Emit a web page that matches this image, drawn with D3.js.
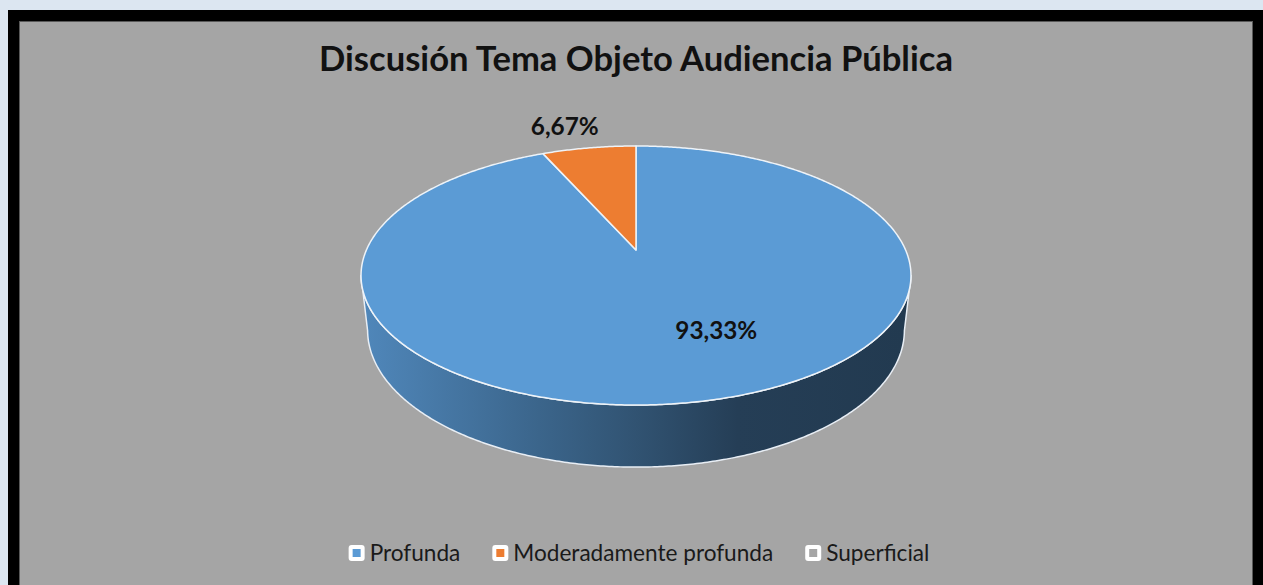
<!DOCTYPE html>
<html>
<head>
<meta charset="utf-8">
<script src="https://cdn.jsdelivr.net/npm/d3@7"></script>
<style>
  html, body { margin: 0; padding: 0; background: #dce6f1; }
  svg { display: block; font-family: Lato, "Open Sans", sans-serif; }
</style>
</head>
<body>
<div id="chart"></div>
<script>
const categories = ['Profunda', 'Moderadamente profunda', 'Superficial'];
const values = [93.33, 6.67, 0];
const colors = ['#5b9bd5', '#ed7d31', '#a5a5a5'];
const title = 'Discusión Tema Objeto Audiencia Pública';

const W = 1263, H = 585;
const svg = d3.select('#chart').append('svg').attr('width', W).attr('height', H);

// frame: light page, black border, gray plot area
svg.append('rect').attr('width', W).attr('height', H).attr('fill', '#dce6f1');
svg.append('rect').attr('x', 8).attr('y', 10).attr('width', W - 8).attr('height', H).attr('fill', '#000');
svg.append('rect').attr('x', 19.5).attr('y', 21.5).attr('width', 1233).attr('height', H)
  .attr('fill', '#a5a5a5').attr('stroke', '#595959').attr('stroke-width', 1);

const locale = d3.formatLocale({ decimal: ',', thousands: '.', grouping: [3], currency: ['', ''] });
const fmtPct = v => locale.format('.2f')(v) + '%';

// fit a text's font size to a target width, returns the new size
function fit(sel, target) {
  const fs = parseFloat(sel.attr('font-size'));
  const w = sel.node().getComputedTextLength();
  sel.attr('font-size', fs * target / w);
  return fs * target / w;
}

const titleText = svg.append('text').attr('x', 636).attr('y', 71).attr('text-anchor', 'middle')
  .attr('font-weight', 'bold').attr('font-size', 30).attr('fill', '#111').text(title);
fit(titleText, 634);

// 3D pie with a simple perspective camera
const tilt = 27.5 * Math.PI / 180, sn = Math.sin(tilt), cs = Math.cos(tilt);
const dist = 4.506, focal = 1214.8, cx = 636, cy = 250, depth = 0.23;

function proj(theta, r, h) {
  const u = r * Math.sin(theta), v = r * Math.cos(theta);
  const yc = v * sn + h * cs, zc = dist + v * cs - h * sn;
  return [cx + focal * u / zc, cy - focal * yc / zc];
}

const pie = d3.pie().sort(null).value(d => d)(values);
const line = d3.line();
const step = Math.PI / 360;

function arcPts(a0, a1, r, h) {
  const n = Math.max(2, Math.ceil((a1 - a0) / step));
  return d3.range(n + 1).map(i => proj(a0 + (a1 - a0) * i / n, r, h));
}

// visible part of the outer wall
const thR = Math.acos(-cs / dist), thL = 2 * Math.PI - thR;

const defs = svg.append('defs');
const sideG = svg.append('g');
const faceG = svg.append('g');

pie.forEach((d, i) => {
  if (d.endAngle - d.startAngle <= 0) return;
  const a0 = Math.max(d.startAngle, thR), a1 = Math.min(d.endAngle, thL);
  if (a1 > a0) {
    const base = d3.color(colors[i]);
    const gid = 'side' + i;
    const x0 = proj(thL, 1, -depth)[0], x1 = proj(thR, 1, -depth)[0];
    defs.append('linearGradient').attr('id', gid).attr('gradientUnits', 'userSpaceOnUse')
      .attr('x1', x0).attr('x2', x1).attr('y1', 0).attr('y2', 0)
      .selectAll('stop').data([[0, 0.4], [0.32, 1.2], [0.5, 1.75], [0.69, 2.55], [1, 2.75]])
      .join('stop').attr('offset', s => s[0]).attr('stop-color', s => base.darker(s[1]).formatHex());
    const pts = arcPts(a0, a1, 1, 0).concat(arcPts(a0, a1, 1, -depth).reverse());
    sideG.append('path').attr('d', line(pts) + 'Z').attr('fill', `url(#${gid})`)
      .attr('stroke', '#e8eef5').attr('stroke-width', 1.5).attr('stroke-linejoin', 'round');
  }
  const face = [proj(0, 0, 0)].concat(arcPts(d.startAngle, d.endAngle, 1, 0));
  faceG.append('path').attr('d', line(face) + 'Z').attr('fill', colors[i])
    .attr('stroke', '#eef3f8').attr('stroke-width', 1.5).attr('stroke-linejoin', 'round');
});

// data labels
const labelPos = [[-0.22, 0.634], [-0.05, 1.28]];
const labels = svg.append('g');
pie.forEach((d, i) => {
  if (!labelPos[i]) return;
  const mid = (d.startAngle + d.endAngle) / 2 + labelPos[i][0];
  const p = proj(mid, labelPos[i][1], 0);
  labels.append('text').attr('x', p[0]).attr('y', p[1]).attr('dy', '0.35em')
    .attr('text-anchor', 'middle').attr('font-weight', 'bold').attr('font-size', 22)
    .attr('fill', '#111').text(fmtPct(values[i]));
});
const dlSize = fit(labels.select('text'), 82);
labels.selectAll('text').attr('font-size', dlSize);

// legend
const legend = svg.append('g');
const items = legend.selectAll('g').data(categories).join('g');
items.append('rect').attr('x', 0).attr('y', -8).attr('width', 16).attr('height', 16)
  .attr('rx', 3).attr('fill', '#fff');
items.append('rect').attr('x', 4).attr('y', -4).attr('width', 8).attr('height', 8)
  .attr('fill', (d, i) => colors[i]);
const legText = items.append('text').attr('x', 21).attr('y', 0).attr('dy', '0.35em')
  .attr('font-size', 19).attr('fill', '#1a1a1a').text(d => d);
const probe = legText.filter((d, i) => i === 1);
const fsL = 19 * 260 / probe.node().getComputedTextLength();
legText.attr('font-size', fsL);
let xoff = 0;
const gap = 32;
items.each(function () {
  const w = this.getBBox().width;
  d3.select(this).attr('transform', `translate(${xoff},0)`);
  xoff += w + gap;
});
const total = xoff - gap;
legend.attr('transform', `translate(${639 - total / 2},553)`);
</script>
</body>
</html>
